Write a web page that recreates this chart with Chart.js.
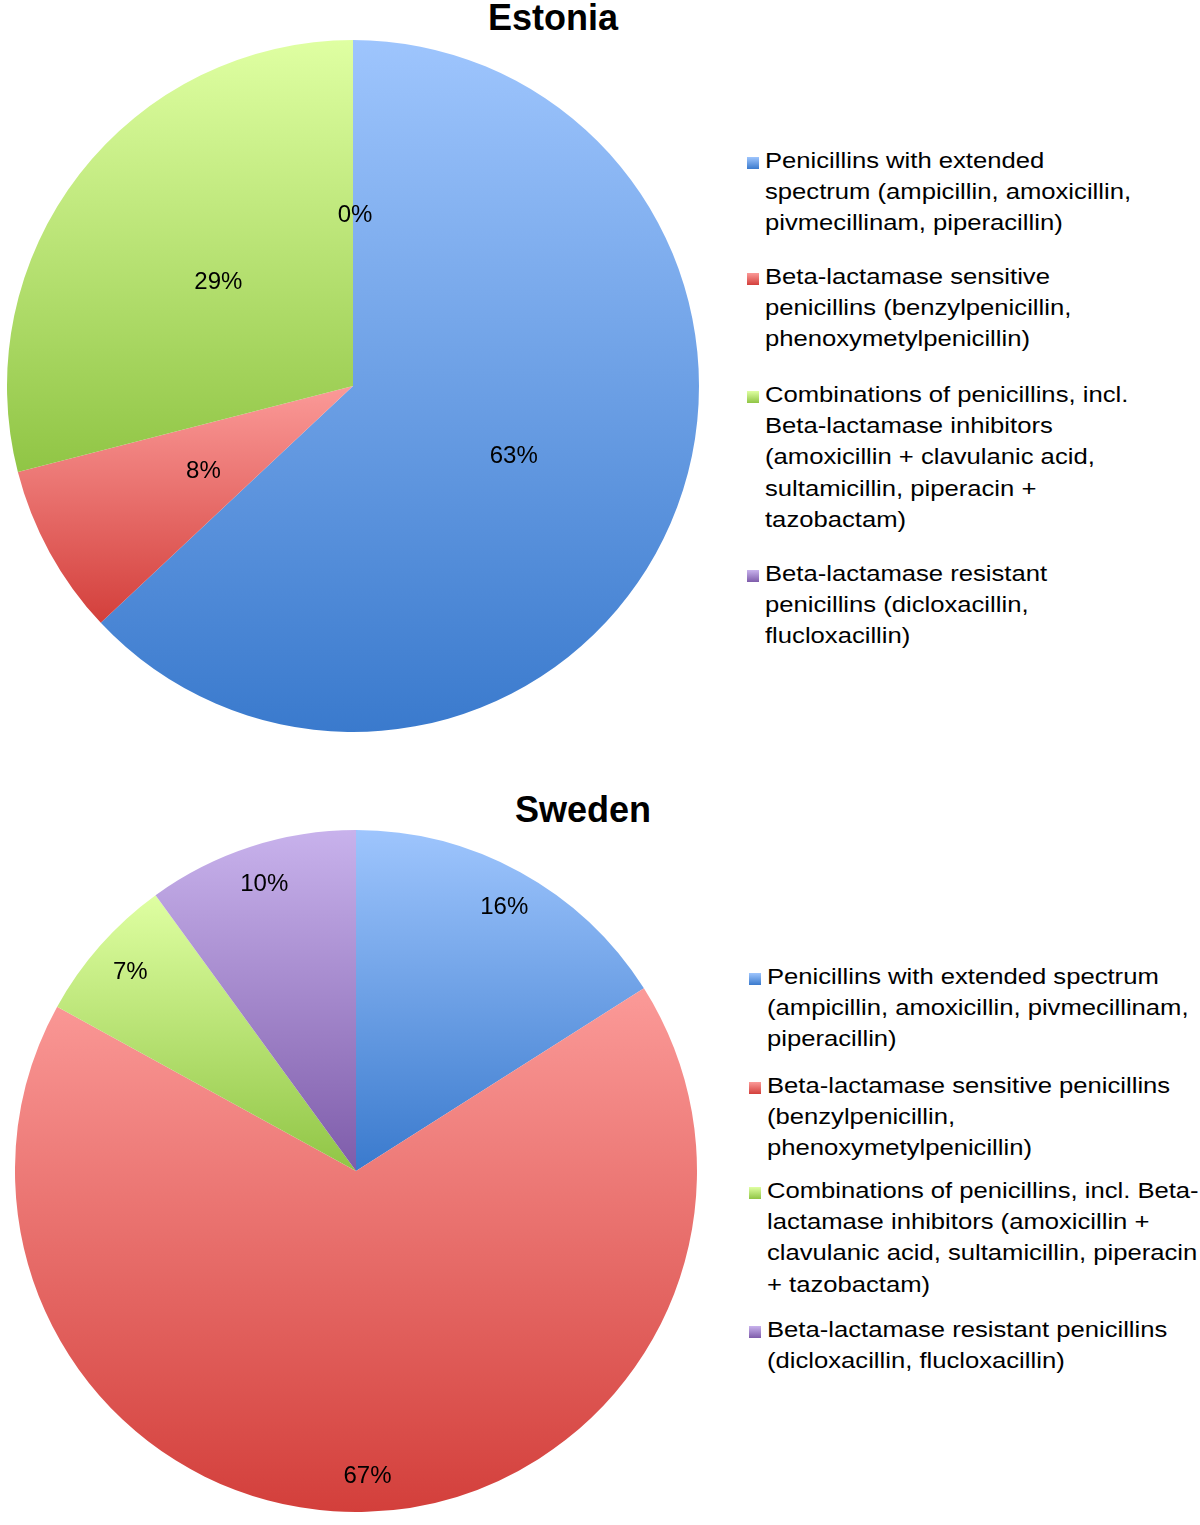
<!DOCTYPE html>
<html>
<head>
<meta charset="utf-8">
<script src="https://cdn.jsdelivr.net/npm/chart.js@4.4.1/dist/chart.umd.min.js"></script>
<style>
  html, body { margin: 0; padding: 0; background: #fff; }
  body { width: 1200px; height: 1525px; position: relative; overflow: hidden; font-family: "Liberation Sans", Arial, sans-serif; }
  .title { position: absolute; width: 300px; text-align: center; font-weight: bold; font-size: 36px; line-height: 36px; color: #000; }
  .pie { position: absolute; }
  .item { position: absolute; font-size: 22px; line-height: 31.3px; color: #000; white-space: nowrap; transform: scaleX(1.165); transform-origin: left top; }
  .mark { position: absolute; width: 12px; height: 12px; }
</style>
</head>
<body>
<div class="title" style="left:403px; top:0px;">Estonia</div>
<canvas id="estonia" class="pie" width="692" height="692" style="left:7px; top:40px;"></canvas>
<div class="title" style="left:433px; top:792px;">Sweden</div>
<canvas id="sweden" class="pie" width="682" height="682" style="left:15px; top:830px;"></canvas>
<div id="legends"></div>

<script>
// data
const categories = [
  'Penicillins with extended spectrum (ampicillin, amoxicillin, pivmecillinam, piperacillin)',
  'Beta-lactamase sensitive penicillins (benzylpenicillin, phenoxymetylpenicillin)',
  'Combinations of penicillins, incl. Beta-lactamase inhibitors (amoxicillin + clavulanic acid, sultamicillin, piperacin + tazobactam)',
  'Beta-lactamase resistant penicillins (dicloxacillin, flucloxacillin)'
];
const estoniaValues = [63, 8, 29, 0];
const swedenValues = [16, 67, 7, 10];

// legend text as it wraps in each chart
const estoniaLegendLines = [
  ['Penicillins with extended', 'spectrum (ampicillin, amoxicillin,', 'pivmecillinam, piperacillin)'],
  ['Beta-lactamase sensitive', 'penicillins (benzylpenicillin,', 'phenoxymetylpenicillin)'],
  ['Combinations of penicillins, incl.', 'Beta-lactamase inhibitors', '(amoxicillin + clavulanic acid,', 'sultamicillin, piperacin +', 'tazobactam)'],
  ['Beta-lactamase resistant', 'penicillins (dicloxacillin,', 'flucloxacillin)']
];
const swedenLegendLines = [
  ['Penicillins with extended spectrum', '(ampicillin, amoxicillin, pivmecillinam,', 'piperacillin)'],
  ['Beta-lactamase sensitive penicillins', '(benzylpenicillin,', 'phenoxymetylpenicillin)'],
  ['Combinations of penicillins, incl. Beta-', 'lactamase inhibitors (amoxicillin +', 'clavulanic acid, sultamicillin, piperacin', '+ tazobactam)'],
  ['Beta-lactamase resistant penicillins', '(dicloxacillin, flucloxacillin)']
];

// gradient colours per slice: top, bottom
const topColors = ['#9ec5fd', '#fb9a98', '#dfffa2', '#c8b2ec'];
const bottomColors = ['#3a7acd', '#d33f3b', '#90c545', '#7e5caa'];

// vertical extent of an arc, used to spread the gradient over each slice
function arcYRange(a) {
  const r = a.outerRadius, s = a.startAngle, e = a.endAngle;
  const ys = [a.y, a.y + r * Math.sin(s), a.y + r * Math.sin(e)];
  for (let k = -2; k <= 2; k++) {
    const bottom = Math.PI / 2 + k * 2 * Math.PI;
    const top = -Math.PI / 2 + k * 2 * Math.PI;
    if (bottom > s && bottom < e) ys.push(a.y + r);
    if (top > s && top < e) ys.push(a.y - r);
  }
  return [Math.min(...ys), Math.max(...ys)];
}

const sliceGradient = {
  id: 'sliceGradient',
  beforeDatasetsDraw(chart) {
    const ctx = chart.ctx;
    chart.getDatasetMeta(0).data.forEach((arc, i) => {
      const [y0, y1] = arcYRange(arc);
      const g = ctx.createLinearGradient(0, y0, 0, Math.max(y1, y0 + 1));
      g.addColorStop(0, topColors[i]);
      g.addColorStop(1, bottomColors[i]);
      arc.options = Object.assign({}, arc.options, { backgroundColor: g });
    });
  }
};

const pctLabels = {
  id: 'pctLabels',
  afterDatasetsDraw(chart, args, opts) {
    const ctx = chart.ctx;
    const values = chart.data.datasets[0].data;
    ctx.save();
    ctx.font = '24px "Liberation Sans", Arial, sans-serif';
    ctx.fillStyle = '#000';
    ctx.textAlign = 'center';
    ctx.textBaseline = 'middle';
    chart.getDatasetMeta(0).data.forEach((arc, i) => {
      const mid = (arc.startAngle + arc.endAngle) / 2;
      const d = arc.outerRadius * opts.radius;
      ctx.fillText(values[i] + '%', arc.x + Math.cos(mid) * d + 2, arc.y + Math.sin(mid) * d + 2);
    });
    ctx.restore();
  }
};

function makePie(id, values, labelRadius) {
  const ctx = document.getElementById(id).getContext('2d');
  new Chart(ctx, {
    type: 'pie',
    data: {
      labels: categories,
      datasets: [{
        data: values,
        backgroundColor: topColors,
        borderWidth: 0,
        hoverOffset: 0,
        offset: 0
      }]
    },
    options: {
      responsive: false,
      animation: false,
      layout: { padding: 0 },
      plugins: {
        legend: { display: false },
        tooltip: { enabled: false },
        pctLabels: { radius: labelRadius }
      }
    },
    plugins: [sliceGradient, pctLabels]
  });
}

makePie('estonia', estoniaValues, 0.5);
makePie('sweden', swedenValues, 0.89);

// html legends
function makeLegend(lines, tops, markX, textX) {
  const box = document.getElementById('legends');
  lines.forEach((item, i) => {
    const t = document.createElement('div');
    t.className = 'item';
    t.style.left = textX + 'px';
    t.style.top = tops[i] + 'px';
    t.innerHTML = item.join('<br>');
    box.appendChild(t);
    const m = document.createElement('div');
    m.className = 'mark';
    m.style.left = markX + 'px';
    m.style.top = (tops[i] + 12.3) + 'px';
    m.style.background = 'linear-gradient(' + topColors[i] + ', ' + bottomColors[i] + ')';
    box.appendChild(m);
  });
}

makeLegend(estoniaLegendLines, [144.7, 260.7, 378.7, 557.7], 747, 765);
makeLegend(swedenLegendLines, [960.7, 1069.7, 1174.7, 1313.7], 749, 767);
</script>
</body>
</html>
